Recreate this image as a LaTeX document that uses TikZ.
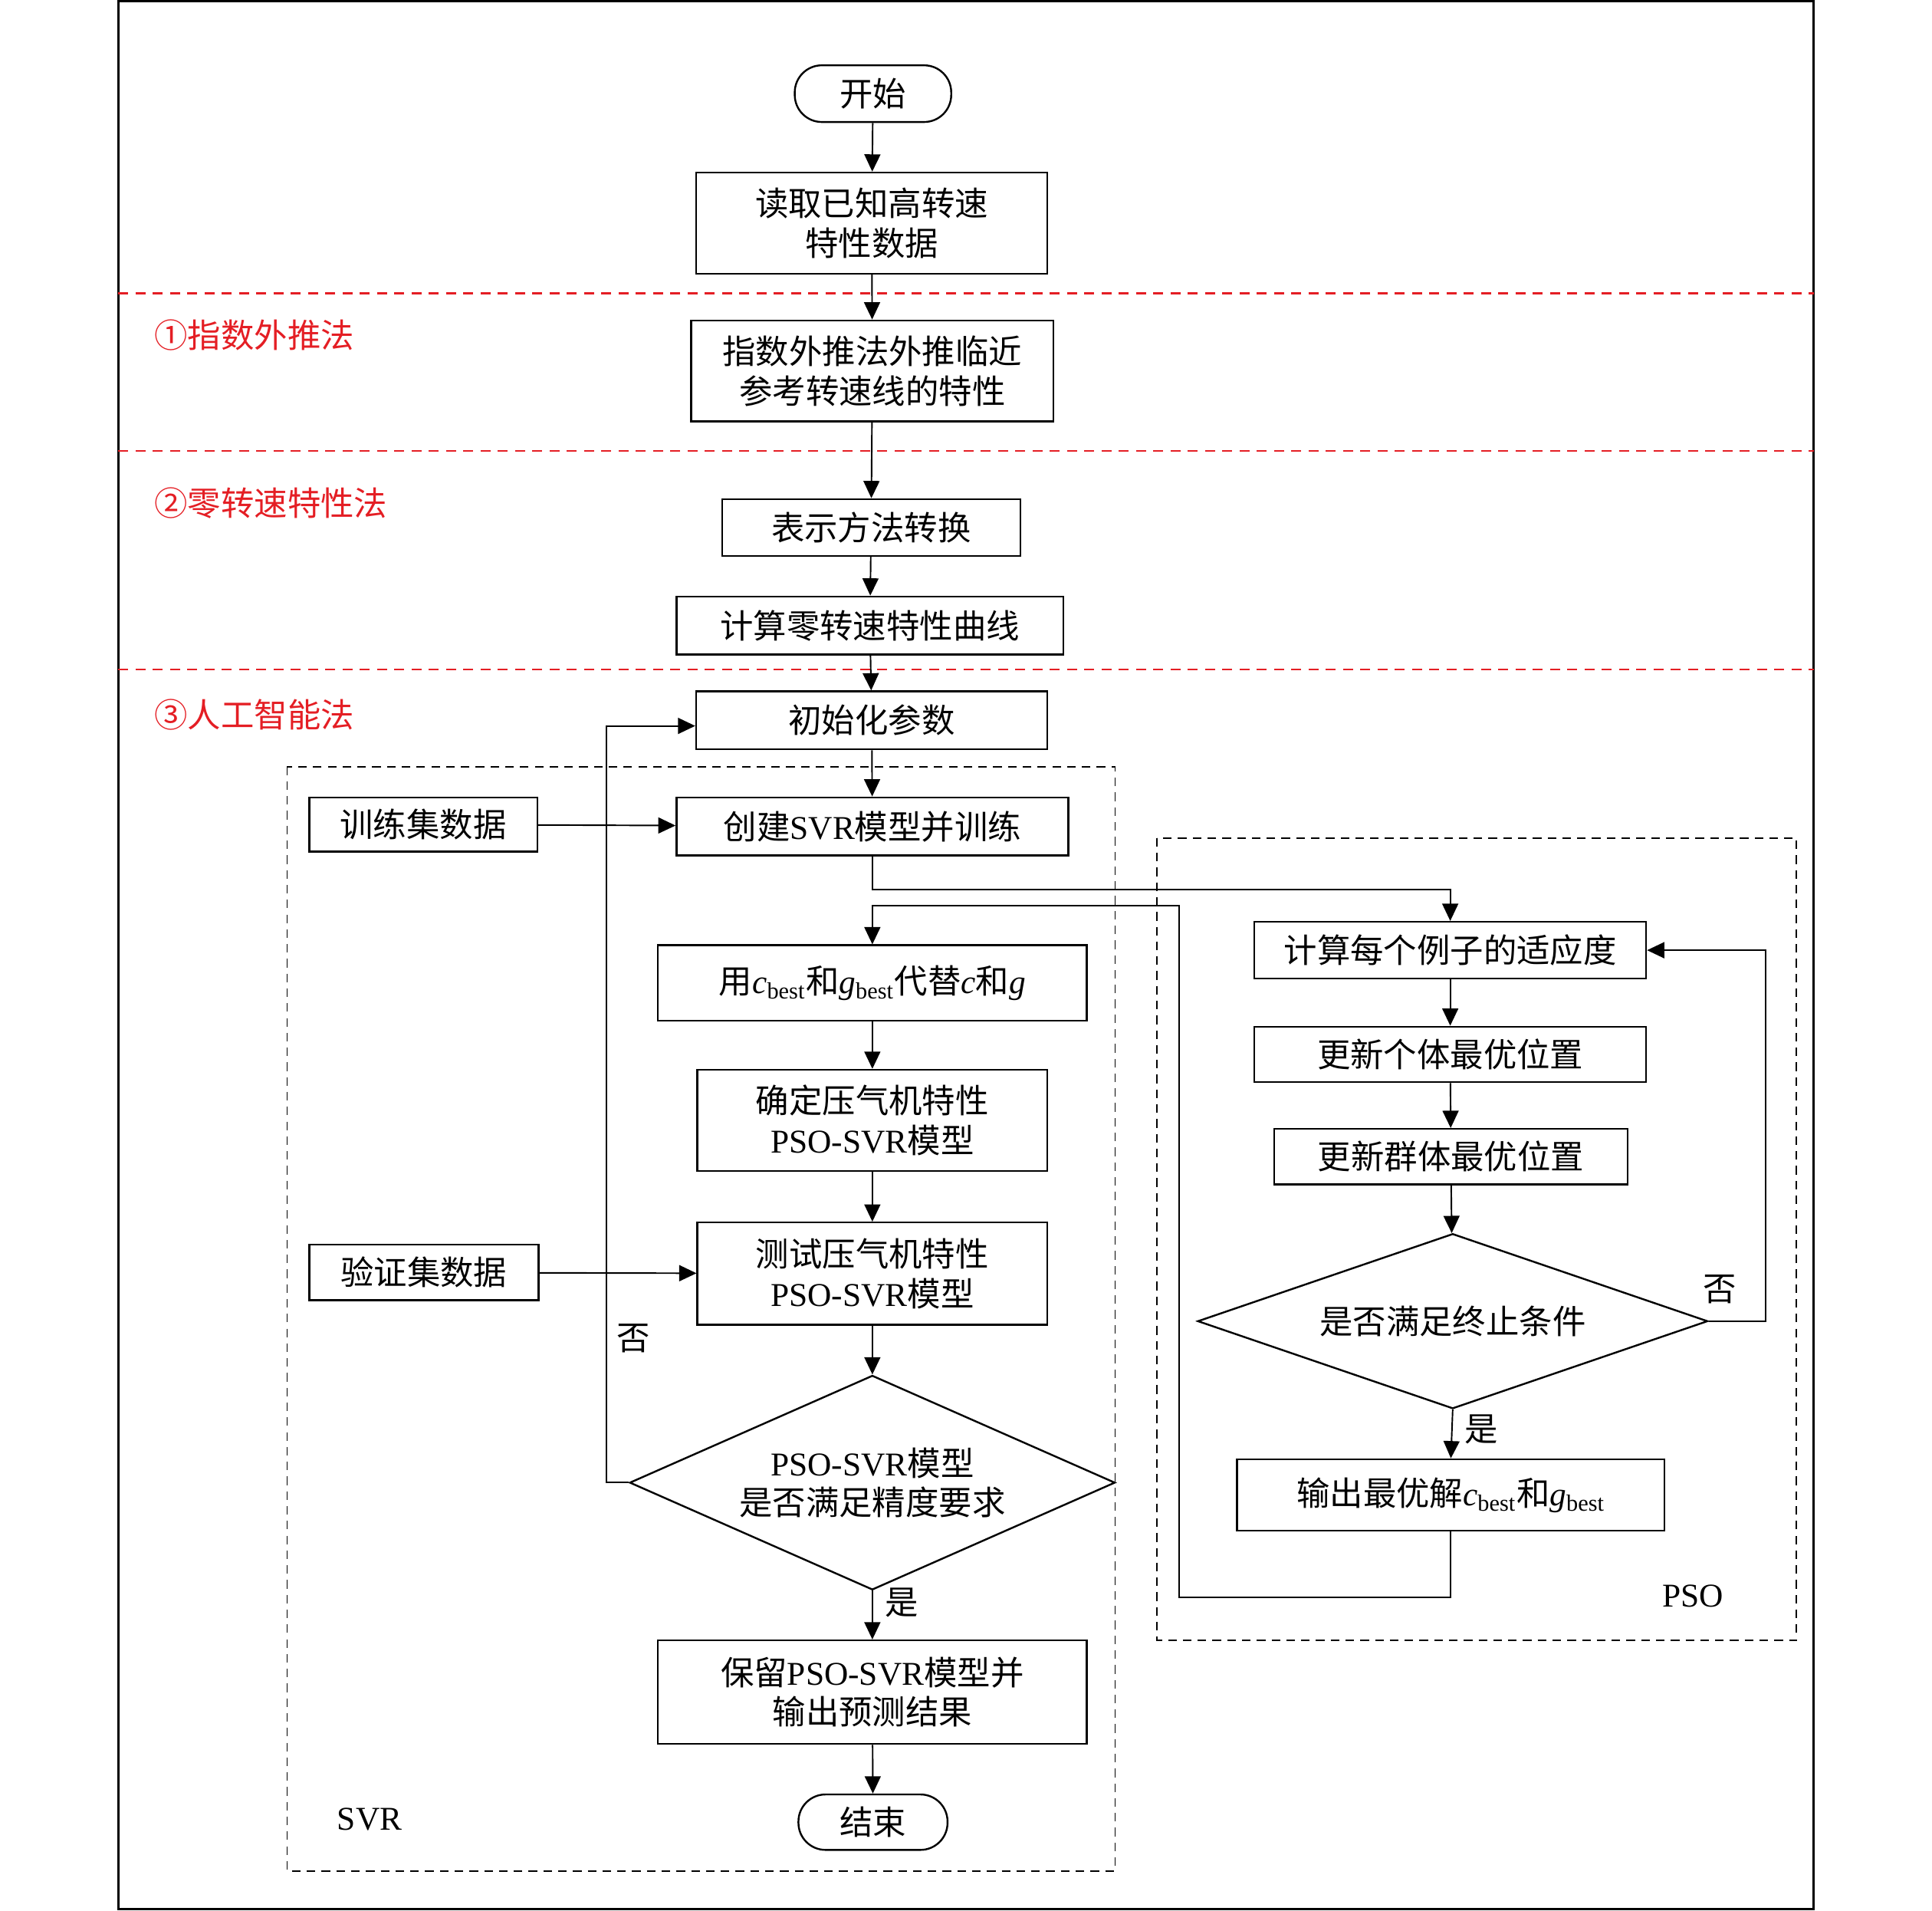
\documentclass[tikz,border=0pt]{standalone}
\usepackage{fontspec}
\setmainfont{Noto Sans CJK SC}
\newfontfamily\tnr{Liberation Serif}
\usepackage{tikz}
\usetikzlibrary{shapes.geometric, arrows.meta, positioning, calc}
\definecolor{secred}{RGB}{228,30,36}
\newcommand{\cbest}[1]{{\tnr\textit{#1}\textsubscript{best}}}
\newcommand{\mvar}[1]{{\tnr\textit{#1}}}

\begin{document}
\begin{tikzpicture}[x=0.5pt, y=-0.5pt,
  box/.style n args={2}{draw, line width=0.75pt, minimum width=#1, minimum height=#2, inner sep=1pt, align=center, font=\fontsize{13.5}{16}\selectfont},
  term/.style n args={2}{box={#1}{#2}, rounded corners=11pt},
  decision/.style n args={3}{draw, diamond, aspect=#3, line width=0.75pt, minimum width=#1, minimum height=#2, inner sep=1pt, align=center, font=\fontsize{13.5}{16}\selectfont},
  arr/.style={-{Triangle[length=7pt, width=6.5pt]}, line width=0.6pt},
  lbl/.style={font=\fontsize{13.5}{16}\selectfont, inner sep=1pt},
  sec/.style={font=\fontsize{13.5}{16}\selectfont, text=secred, anchor=west, inner sep=0pt},
  divider/.style={secred, line width=0.7pt, dash pattern=on 4pt off 3pt},
  group/.style={line width=0.6pt, dash pattern=on 3.5pt off 2.5pt}
]
  \useasboundingbox (0,0) rectangle (1568,1550);
  \draw[line width=0.8pt] (96,1) rectangle (1472,1549);

  \draw[divider] (96,238) -- (1472,238);
  \draw[divider] (96,366) -- (1472,366);
  \draw[divider] (96,543) -- (1472,543);
  \node[sec] at (125,272) {①指数外推法};
  \node[sec] at (125,408) {②零转速特性法};
  \node[sec] at (125,580) {③人工智能法};

  \draw[group] (233,622) rectangle (905,1518);
  \draw[group] (939,680) rectangle (1458,1331);
  \node[lbl, font=\fontsize{13.5}{16}\selectfont\tnr] at (300,1476) {SVR};
  \node[lbl, font=\fontsize{13.5}{16}\selectfont\tnr] at (1374,1295) {PSO};

  \node[term={63.5pt}{23pt}] (start) at (708.5,76) {开始};
  \node[box={142.5pt}{41pt}] (read) at (707.5,181) {读取已知高转速\\特性数据};
  \node[box={147pt}{41pt}] (extrap) at (708,301) {指数外推法外推临近\\参考转速线的特性};
  \node[box={121pt}{23pt}] (conv) at (707,428) {表示方法转换};
  \node[box={157pt}{23.5pt}] (zero) at (706,507.5) {计算零转速特性曲线};
  \node[box={142.5pt}{23.5pt}] (init) at (707.5,584.5) {初始化参数};
  \node[box={92.5pt}{22pt}] (train) at (343.5,669) {训练集数据};
  \node[box={159pt}{23.5pt}] (create) at (708,670.5) {创建{\tnr SVR}模型并训练};
  \node[box={174pt}{30.5pt}] (replace) at (708,797.5) {用\cbest{c}和\cbest{g}代替\mvar{c}和\mvar{g}};
  \node[box={142pt}{41pt}] (determine) at (708,909) {确定压气机特性\\{\tnr PSO-SVR}模型};
  \node[box={142pt}{41.5pt}] (test) at (708,1033.5) {测试压气机特性\\{\tnr PSO-SVR}模型};
  \node[box={93pt}{22.5pt}] (valid) at (344,1032.5) {验证集数据};
  \node[decision={197pt}{87pt}{2.26}] (acc) at (708,1203) {{\tnr PSO-SVR}模型\\是否满足精度要求};
  \node[box={174pt}{42pt}] (keep) at (708,1373) {保留{\tnr PSO-SVR}模型并\\输出预测结果};
  \node[term={60.5pt}{22.5pt}] (end) at (708.5,1478.5) {结束};

  \node[box={159pt}{23pt}] (fitness) at (1177,771) {计算每个例子的适应度};
  \node[box={159pt}{22.5pt}] (pbest) at (1177,855.5) {更新个体最优位置};
  \node[box={143.5pt}{22.5pt}] (gbest) at (1177.5,938.5) {更新群体最优位置};
  \node[decision={207pt}{71pt}{2.9}] (stop) at (1179,1072) {是否满足终止条件};
  \node[box={173.5pt}{29pt}] (output) at (1177.5,1213) {输出最优解\cbest{c}和\cbest{g}};

  \coordinate (fb) at (492,589);
  \coordinate (pl) at (957,1296);
  \coordinate (pu) at (957,735);

  \draw[arr] (start) -- (read);
  \draw[arr] (read) -- (extrap);
  \draw[arr] (extrap) -- (conv);
  \draw[arr] (conv) -- (zero);
  \draw[arr] (zero) -- (init);
  \draw[arr] (init) -- (create);
  \draw[arr] (train) -- (create);
  \draw[arr] (create.south) -- ++(0,27) -| (fitness.north);
  \draw[arr] (output.south) |- (pl) -- (pu) -| (replace.north);
  \draw[arr] (replace) -- (determine);
  \draw[arr] (determine) -- (test);
  \draw[arr] (valid) -- (test);
  \draw[arr] (test) -- (acc);
  \draw[arr] (acc.west) -| (fb) -- (fb -| init.west);
  \draw[arr] (acc.south) -- node[lbl, pos=0.25, right=4pt] {是} (keep.north);
  \draw[arr] (keep) -- (end);

  \draw[arr] (fitness) -- (pbest);
  \draw[arr] (pbest) -- (gbest);
  \draw[arr] (gbest) -- (stop);
  \draw[arr] (stop.east) -- ++(46,0) |- (fitness.east);
  \draw[arr] (stop.south) -- node[lbl, pos=0.4, right=4pt] {是} (output.north);

  \node[lbl] at (514,1086) {否};
  \node[lbl] at (1396,1046) {否};
\end{tikzpicture}
\end{document}
